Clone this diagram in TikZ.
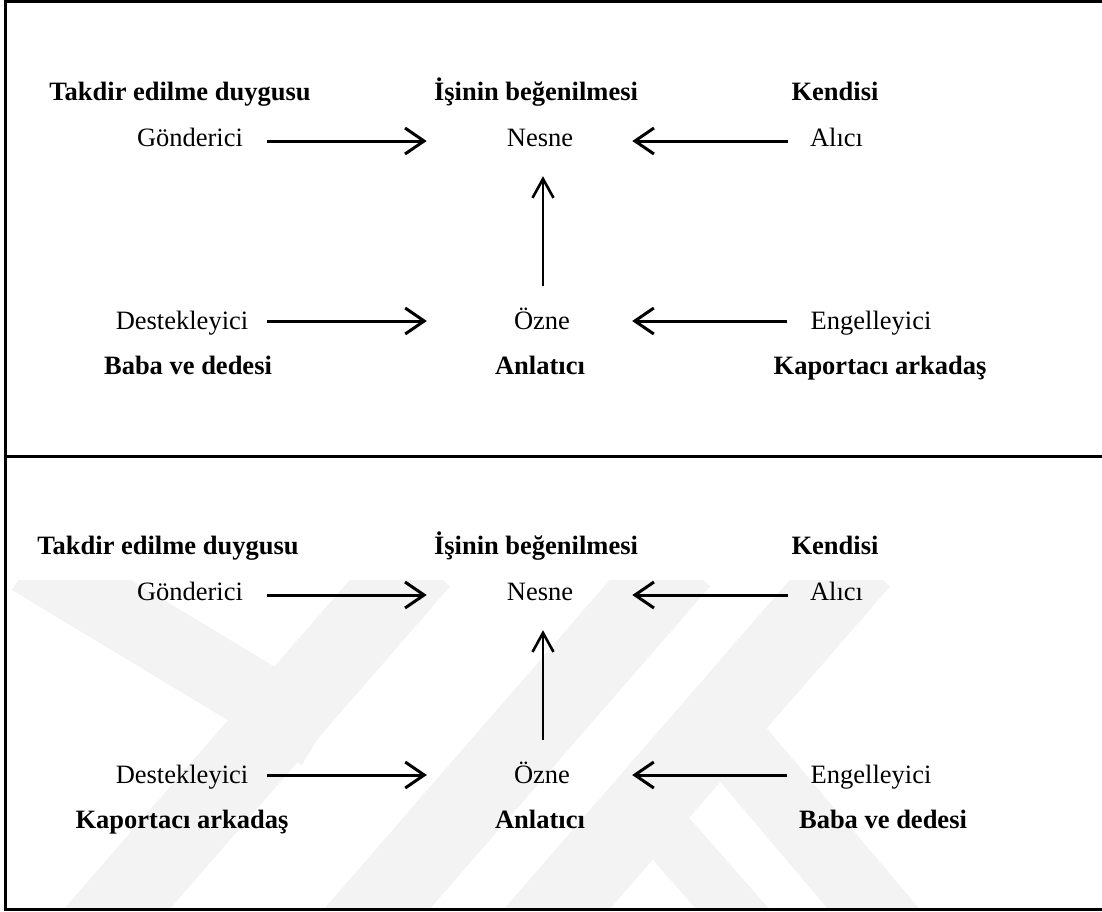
\documentclass[tikz,border=0pt]{standalone}
\usepackage{fontspec}
\setmainfont{Liberation Serif}
\usetikzlibrary{arrows.meta}
\definecolor{wm}{RGB}{243,243,243}
\begin{document}
\begin{tikzpicture}[x=1pt,y=-1pt,
  lbl/.style={font=\fontsize{26.5pt}{30pt}\selectfont, inner sep=0pt, text height=16pt, text depth=6pt, anchor=base},
  bold/.style={lbl, font=\fontsize{26.5pt}{30pt}\selectfont\bfseries},
  arr/.style={line width=3pt, -{Straight Barb[length=19pt,width=26pt]}},
  varr/.style={line width=2.6pt, -{Straight Barb[length=19pt,width=21pt]}},
  frame/.style={line width=2.7pt},
  band/.style={draw=wm, line width=#1},
  band/.default=80pt
]
\useasboundingbox (0,0) rectangle (1102,911);

% watermark (faint)
\begin{scope}
  \clip (7,580) rectangle (1102,907.5);
  \draw[band=70pt] (30,560) -- (320,735);
  \draw[band] (420,560) -- (90,940);
  \draw[band] (680,560) -- (350,940);
  \draw[band] (860,560) -- (530,940);
  \draw[band=70pt] (735,745) -- (900,940);
  \draw[band=55pt] (650,815) -- (760,940);
\end{scope}

% frame
\draw[frame] (1110,1.3) -- (5.3,1.3) -- (5.3,909.3) -- (1110,909.3);
\draw[frame] (5.3,456.3) -- (1110,456.3);

% ---------- top panel ----------
\node[bold] (ta) at (180,100) {Takdir edilme duygusu};
\node[bold] (tb) at (536,100) {İşinin beğenilmesi};
\node[bold] (tc) at (835,100) {Kendisi};
\node[lbl] (gon1) at (190,146) {Gönderici};
\node[lbl] (nes1) at (540,146) {Nesne};
\node[lbl] (ali1) at (836.5,146) {Alıcı};
\node[lbl] (des1) at (182,329) {Destekleyici};
\node[lbl] (ozn1) at (542,329) {Özne};
\node[lbl] (eng1) at (871,329) {Engelleyici};
\node[bold] (ba) at (188,374) {Baba ve dedesi};
\node[bold] (bb) at (540,374) {Anlatıcı};
\node[bold] (bc) at (880,374) {Kaportacı arkadaş};

\draw[arr, shorten <=24pt, shorten >=80pt] (gon1.east) -- (nes1.west);
\draw[arr, shorten <=22pt, shorten >=59pt] (ali1.west) -- (nes1.east);
\draw[arr, shorten <=19pt, shorten >=87pt] ([yshift=3pt]des1.east) -- ([yshift=3pt]ozn1.west);
\draw[arr, shorten <=23pt, shorten >=62pt] ([yshift=3pt]eng1.west) -- ([yshift=3pt]ozn1.east);
\draw[varr, shorten <=27pt, shorten >=24pt] ([xshift=1pt]ozn1.north) -- ([xshift=1pt]ozn1.north |- nes1.south);

% ---------- bottom panel ----------
\node[bold] (tA) at (168,554) {Takdir edilme duygusu};
\node[bold] (tB) at (536,554) {İşinin beğenilmesi};
\node[bold] (tC) at (835,554) {Kendisi};
\node[lbl] (gon2) at (190,600) {Gönderici};
\node[lbl] (nes2) at (540,600) {Nesne};
\node[lbl] (ali2) at (836.5,600) {Alıcı};
\node[lbl] (des2) at (182,783) {Destekleyici};
\node[lbl] (ozn2) at (542,783) {Özne};
\node[lbl] (eng2) at (871,783) {Engelleyici};
\node[bold] (bA) at (182,828) {Kaportacı arkadaş};
\node[bold] (bB) at (540,828) {Anlatıcı};
\node[bold] (bC) at (883,828) {Baba ve dedesi};

\draw[arr, shorten <=24pt, shorten >=80pt] (gon2.east) -- (nes2.west);
\draw[arr, shorten <=22pt, shorten >=59pt] (ali2.west) -- (nes2.east);
\draw[arr, shorten <=19pt, shorten >=87pt] ([yshift=3pt]des2.east) -- ([yshift=3pt]ozn2.west);
\draw[arr, shorten <=23pt, shorten >=62pt] ([yshift=3pt]eng2.west) -- ([yshift=3pt]ozn2.east);
\draw[varr, shorten <=27pt, shorten >=24pt] ([xshift=1pt]ozn2.north) -- ([xshift=1pt]ozn2.north |- nes2.south);
\end{tikzpicture}
\end{document}
